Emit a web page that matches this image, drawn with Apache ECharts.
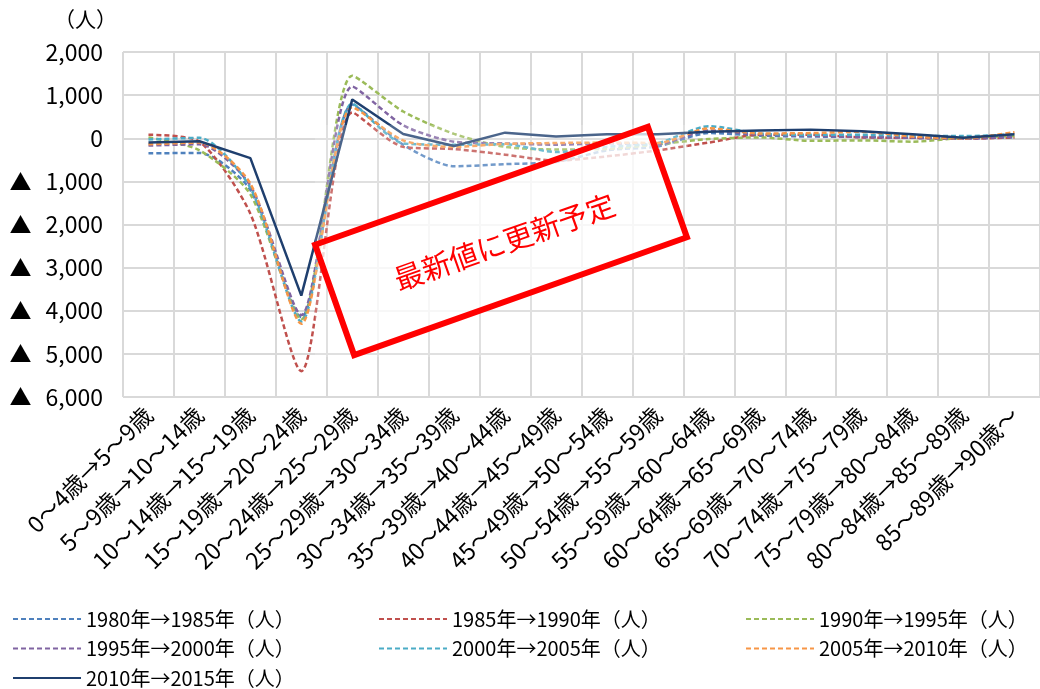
<!DOCTYPE html>
<html>
<head>
<meta charset="utf-8">
<script src="https://cdn.jsdelivr.net/npm/echarts@6/dist/echarts.min.js"></script>
<style>
  html, body { margin: 0; padding: 0; background: #fff; }
  #chart { width: 1040px; height: 689px; }
</style>
</head>
<body>
<div id="chart"></div>
<script>
// Age-cohort transitions (five-year steps)
const categories = [
  "0～4歳→5～9歳", "5～9歳→10～14歳", "10～14歳→15～19歳", "15～19歳→20～24歳",
  "20～24歳→25～29歳", "25～29歳→30～34歳", "30～34歳→35～39歳", "35～39歳→40～44歳",
  "40～44歳→45～49歳", "45～49歳→50～54歳", "50～54歳→55～59歳", "55～59歳→60～64歳",
  "60～64歳→65～69歳", "65～69歳→70～74歳", "70～74歳→75～79歳", "75～79歳→80～84歳",
  "80～84歳→85～89歳", "85～89歳→90歳～"
];

// Net change per cohort (persons)
const s1980_1985 = [-350, -340, -1200, -4150, 780, -150, -650, -600, -550, -280, -190, 120, 60, 40, 30, 10, 0, 20];
const s1985_1990 = [80, -80, -1750, -5400, 600, -200, -250, -380, -520, -420, -280, -100, 80, 80, 20, 10, -10, 20];
const s1990_1995 = [20, -280, -1300, -4200, 1450, 620, 100, -200, -260, -250, -140, -20, 20, -60, -50, -80, 10, 50];
const s1995_2000 = [-170, -140, -1100, -4100, 1200, 300, -80, -120, -150, -120, -140, 180, 80, 60, 30, 10, -10, 40];
const s2000_2005 = [-30, 10, -1150, -4250, 800, -120, -150, -140, -320, -200, -110, 280, 110, 80, 80, 60, 50, 90];
const s2005_2010 = [-140, -100, -1050, -4300, 720, -50, -200, -130, -110, -100, -110, 230, 110, 120, 150, 40, 0, 140];
const s2010_2015 = [-100, -70, -460, -3650, 900, 100, -180, 130, 40, 90, 90, 150, 180, 200, 160, 90, 10, 90];

const seriesNames = [
  "1980年→1985年（人）", "1985年→1990年（人）", "1990年→1995年（人）",
  "1995年→2000年（人）", "2000年→2005年（人）", "2005年→2010年（人）",
  "2010年→2015年（人）"
];
const seriesData = [s1980_1985, s1985_1990, s1990_1995, s1995_2000, s2000_2005, s2005_2010, s2010_2015];
const seriesColors = ["#4F81BD", "#C0504D", "#9BBB59", "#8064A2", "#4BACC6", "#F79646", "#1F3F6E"];

const yTicks = { min: -6000, max: 2000, step: 1000 };
const FONT = '"Noto Sans CJK JP", "Noto Sans", sans-serif';

function fmtNum(v) {
  return Math.abs(v).toLocaleString('en-US');
}

const series = seriesData.map((data, i) => {
  const solid = i === seriesData.length - 1;
  return {
    name: seriesNames[i],
    type: 'line',
    data: data,
    symbol: 'none',
    showSymbol: false,
    smooth: solid ? false : 0.25,
    z: solid ? 3 : 2,
    lineStyle: {
      color: seriesColors[i],
      width: 2.5,
      type: solid ? 'solid' : [5, 3]
    },
    itemStyle: { color: seriesColors[i] }
  };
});

// One vertical legend per column
const legendBase = {
  orient: 'vertical',
  top: 609,
  height: 80,
  padding: 0,
  itemWidth: 68,
  itemHeight: 14,
  itemGap: 9.5,
  itemStyle: { opacity: 0 },
  textStyle: { fontFamily: FONT, fontSize: 20, color: '#000' }
};

const chart = echarts.init(document.getElementById('chart'), null, { renderer: 'canvas' });
chart.setOption({
  animation: false,
  backgroundColor: '#fff',
  grid: { left: 123, top: 52, width: 923, height: 345, containLabel: false },
  legend: [
    Object.assign({}, legendBase, { left: 12, data: [seriesNames[0], seriesNames[3], seriesNames[6]] }),
    Object.assign({}, legendBase, { left: 378, data: [seriesNames[1], seriesNames[4]] }),
    Object.assign({}, legendBase, { left: 745, data: [seriesNames[2], seriesNames[5]] })
  ],
  xAxis: {
    type: 'category',
    data: categories,
    boundaryGap: true,
    axisLine: { show: false },
    axisTick: { show: false },
    splitLine: { show: true, lineStyle: { color: '#d9d9d9', width: 2 } },
    axisLabel: {
      interval: 0,
      rotate: 45,
      margin: 14,
      fontFamily: FONT,
      fontSize: 23,
      color: '#000'
    }
  },
  yAxis: {
    type: 'value',
    min: yTicks.min,
    max: yTicks.max,
    interval: yTicks.step,
    name: '（人）',
    nameLocation: 'end',
    nameGap: 22,
    nameTextStyle: { fontFamily: FONT, fontSize: 21, color: '#000', align: 'right', padding: [0, 6, 0, 0] },
    axisLine: { show: false },
    axisTick: { show: false },
    splitLine: { show: true, lineStyle: { color: '#d9d9d9', width: 2 } },
    axisLabel: {
      margin: 20,
      fontFamily: FONT,
      fontSize: 23,
      color: '#000',
      formatter: function (v) {
        return v < 0 ? '{t|▲}{n|' + fmtNum(v) + '}' : '{n|' + fmtNum(v) + '}';
      },
      rich: {
        t: { width: 36, align: 'left', fontFamily: FONT, fontSize: 22, color: '#000' },
        n: { fontFamily: FONT, fontSize: 23, color: '#000' }
      }
    }
  },
  series: series,
  graphic: [
    {
      type: 'rect',
      z: 100,
      shape: { x: 315, y: 125, width: 373, height: 232 },
      style: { fill: 'rgba(255,255,255,0.2)' }
    },
    {
      type: 'group',
      z: 101,
      x: 501,
      y: 241,
      rotation: 19.5 * Math.PI / 180,
      children: [
        {
          type: 'rect',
          z: 101,
          shape: { x: -176.5, y: -58.5, width: 353, height: 117 },
          style: { fill: 'rgba(255,255,255,0.72)', stroke: '#ff0000', lineWidth: 6 }
        },
        {
          type: 'text',
          z: 102,
          x: 3,
          y: 2,
          style: {
            text: '最新値に更新予定',
            fill: '#ff0000',
            font: '29px "Noto Sans CJK JP"',
            align: 'center',
            verticalAlign: 'middle'
          }
        }
      ]
    }
  ]
});
</script>
</body>
</html>
